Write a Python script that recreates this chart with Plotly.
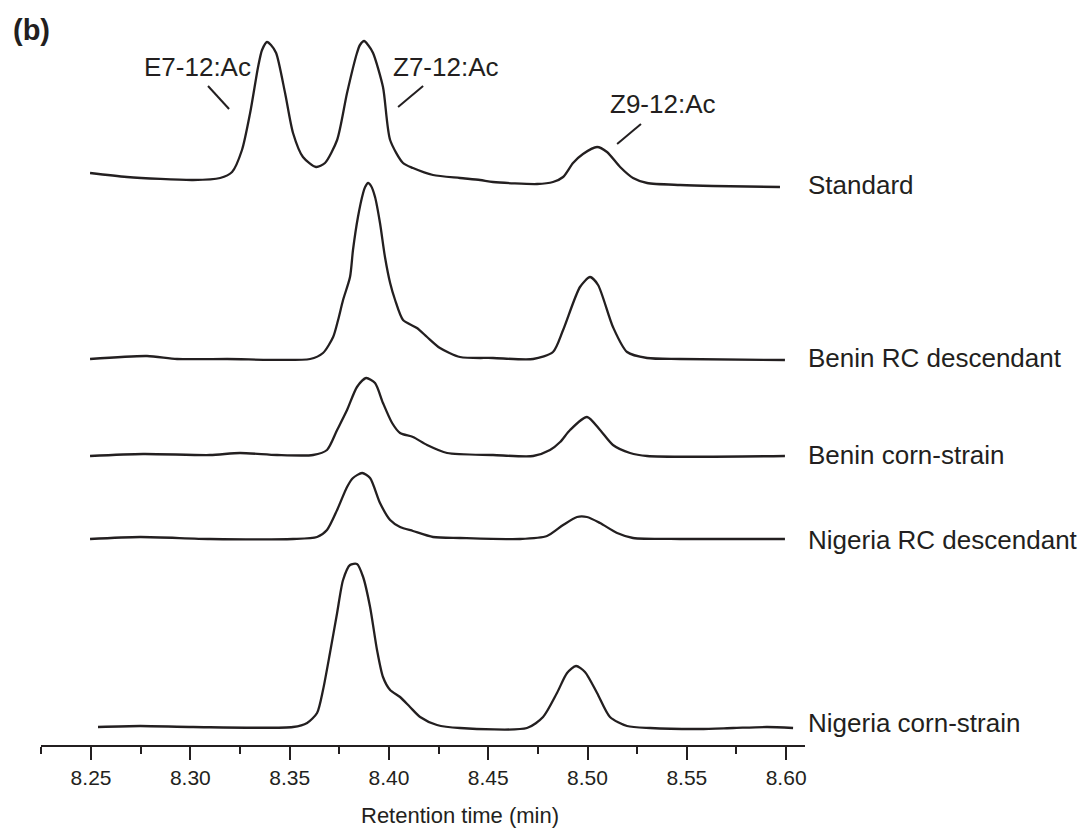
import plotly.graph_objects as go

# ---------------- data (retention time in min, stacked detector response, a.u.) ----------------
std_t = [8.2495, 8.2681, 8.3014, 8.3150, 8.3210, 8.3260, 8.3301, 8.3341, 8.3361, 8.3386, 8.3406,
         8.3432, 8.3477, 8.3517, 8.3567, 8.3633, 8.3678, 8.3739, 8.3789, 8.3839, 8.3854, 8.3875,
         8.3895, 8.3920, 8.3970, 8.4006, 8.4071, 8.4121, 8.4222, 8.4358, 8.4459, 8.4524, 8.4746,
         8.4826, 8.4877, 8.4927, 8.4977, 8.5048, 8.5098, 8.5164, 8.5229, 8.5300, 8.5466, 8.5632,
         8.5969]
std_y = [572, 568, 565, 567, 573, 595, 632, 678, 695, 703, 700,
         692, 652, 612, 588, 578, 582, 605, 652, 692, 700, 704,
         700, 692, 658, 605, 582, 577, 570, 567, 565, 563, 561,
         563, 568, 582, 591, 598, 593, 578, 567, 562, 560, 559,
         558]

brc_t = [8.2495, 8.2782, 8.2933, 8.3185, 8.3603, 8.3668, 8.3719, 8.3744, 8.3769, 8.3804, 8.3819,
         8.3844, 8.3870, 8.3880, 8.3895, 8.3910, 8.3930, 8.3955, 8.3980, 8.4006, 8.4031, 8.4071,
         8.4141, 8.4192, 8.4257, 8.4358, 8.4524, 8.4726, 8.4826, 8.4877, 8.4962, 8.5013, 8.5053,
         8.5128, 8.5199, 8.5300, 8.5466, 8.5994]
brc_y = [386, 389, 386, 386, 386, 392, 408, 425, 445, 468, 495,
         528, 552, 558, 562, 559, 548, 522, 488, 462, 445, 425,
         417, 408, 397, 388, 387, 386, 393, 415, 458, 468, 460,
         418, 393, 387, 386, 385]

bcs_t = [8.2495, 8.2762, 8.3099, 8.3250, 8.3437, 8.3618, 8.3688, 8.3739, 8.3789, 8.3839, 8.3885,
         8.3930, 8.3970, 8.4016, 8.4056, 8.4121, 8.4192, 8.4293, 8.4524, 8.4726, 8.4811, 8.4862,
         8.4912, 8.4997, 8.5063, 8.5128, 8.5214, 8.5300, 8.5994]
bcs_y = [289, 291, 290, 292, 290, 290, 295, 315, 335, 358, 367,
         362, 342, 322, 312, 308, 300, 292, 290, 289, 295, 303,
         315, 328, 315, 300, 292, 289, 289]

nrc_t = [8.2495, 8.2747, 8.3099, 8.3517, 8.3638, 8.3688, 8.3739, 8.3789, 8.3819, 8.3865, 8.3905,
         8.3955, 8.4006, 8.4056, 8.4121, 8.4222, 8.4358, 8.4660, 8.4796, 8.4877, 8.4947, 8.4997,
         8.5063, 8.5149, 8.5229, 8.5466, 8.5994]
nrc_y = [206, 208, 206, 206, 208, 215, 235, 258, 267, 272, 267,
         242, 225, 218, 214, 208, 207, 206, 209, 220, 228, 228,
         222, 212, 207, 206, 206]

ncs_t = [8.2535, 8.2747, 8.3014, 8.3517, 8.3588, 8.3638, 8.3668, 8.3703, 8.3739, 8.3769, 8.3804,
         8.3839, 8.3870, 8.3905, 8.3940, 8.3970, 8.4006, 8.4056, 8.4106, 8.4157, 8.4242, 8.4358,
         8.4695, 8.4776, 8.4846, 8.4897, 8.4942, 8.4987, 8.5048, 8.5113, 8.5199, 8.5315, 8.5566,
         8.5733, 8.5904, 8.6035]
ncs_y = [18, 19, 18, 18, 22, 32, 55, 92, 132, 165, 180,
         181, 168, 138, 95, 68, 55, 48, 38, 28, 20, 17,
         17, 28, 52, 72, 79, 73, 52, 28, 19, 17, 16, 17, 18, 17]

sample_names = ["Standard", "Benin RC descendant", "Benin corn-strain",
                "Nigeria RC descendant", "Nigeria corn-strain"]
sample_label_y = [560, 387, 290, 205, 22]

peak_names = ["E7-12:Ac", "Z7-12:Ac", "Z9-12:Ac"]
peak_label_t = [8.3034, 8.4288, 8.5380]
peak_label_y = [678, 678, 641]
leader_t0 = [8.3089, 8.4172, 8.5269]
leader_y0 = [659, 659, 621]
leader_t1 = [8.3195, 8.4046, 8.5149]
leader_y1 = [636, 638, 601]

tick_vals = [8.25, 8.30, 8.35, 8.40, 8.45, 8.50, 8.55, 8.60]
tick_text = ["8.25", "8.30", "8.35", "8.40", "8.45", "8.50", "8.55", "8.60"]
x_title = "Retention time (min)"

# ---------------- figure ----------------
INK = "#231f20"
FONT = "Liberation Sans, Arial, sans-serif"

fig = go.Figure()
for t, y, nm in [(std_t, std_y, sample_names[0]), (brc_t, brc_y, sample_names[1]),
                 (bcs_t, bcs_y, sample_names[2]), (nrc_t, nrc_y, sample_names[3]),
                 (ncs_t, ncs_y, sample_names[4])]:
    fig.add_trace(go.Scatter(x=t, y=y, mode="lines", name=nm,
                             line=dict(color=INK, width=2.3, shape="spline", smoothing=0.7),
                             showlegend=False, hoverinfo="skip"))

annotations = []
for nm, yy in zip(sample_names, sample_label_y):
    annotations.append(dict(x=1, xref="paper", xshift=1, y=yy, yref="y", text=nm,
                            xanchor="left", yanchor="middle", showarrow=False,
                            font=dict(size=26, color=INK, family=FONT)))
for nm, tx, ty in zip(peak_names, peak_label_t, peak_label_y):
    annotations.append(dict(x=tx, y=ty, xref="x", yref="y", text=nm, showarrow=False,
                            xanchor="center", yanchor="middle",
                            font=dict(size=26, color=INK, family=FONT)))
annotations.append(dict(x=-0.012, y=0.986, xref="paper", yref="paper", text="<b>(b)</b>",
                        showarrow=False, xanchor="center", yanchor="middle",
                        font=dict(size=29, color=INK, family=FONT)))
annotations.append(dict(x=0.548, y=-0.0966, xref="paper", yref="paper", text=x_title,
                        showarrow=False, xanchor="center", yanchor="middle",
                        font=dict(size=22, color=INK, family=FONT)))

shapes = []
for a, b, c, d in zip(leader_t0, leader_y0, leader_t1, leader_y1):
    shapes.append(dict(type="line", xref="x", yref="y", x0=a, y0=b, x1=c, y1=d,
                       line=dict(color=INK, width=2)))

fig.update_layout(
    width=1086, height=832,
    margin=dict(l=41, r=281, t=20, b=87),
    paper_bgcolor="white", plot_bgcolor="white",
    annotations=annotations, shapes=shapes,
    font=dict(family=FONT, color=INK),
    hovermode=False,
    xaxis=dict(range=[8.2248, 8.6095], showgrid=False, zeroline=False,
               showline=True, linecolor=INK, linewidth=2,
               ticks="outside", ticklen=13, tickwidth=2, tickcolor=INK,
               tickvals=tick_vals, ticktext=tick_text,
               tickfont=dict(size=21, color=INK, family=FONT),
               minor=dict(ticks="outside", ticklen=7, tickwidth=2, tickcolor=INK,
                          dtick=0.025, tick0=8.25)),
    yaxis=dict(range=[0, 725], visible=False, showgrid=False, zeroline=False),
)

fig.write_html("out.html", config={"displayModeBar": False, "staticPlot": True},
               post_script="document.body.style.margin='0';document.body.style.padding='0';")
